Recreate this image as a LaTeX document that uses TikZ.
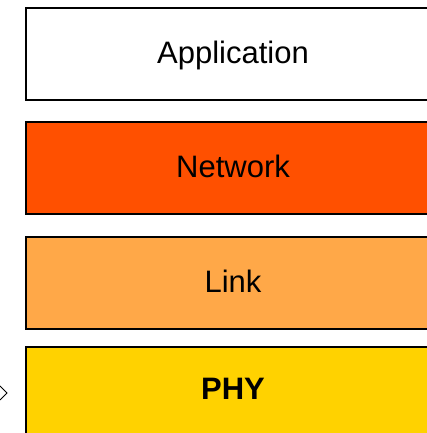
\documentclass[tikz,border=0pt]{standalone}
\usepackage{fontspec}
\setmainfont{Liberation Sans}
\definecolor{netcol}{RGB}{255,80,0}
\definecolor{linkcol}{RGB}{255,168,72}
\definecolor{phycol}{RGB}{255,210,0}
\begin{document}
\begin{tikzpicture}[x=1pt,y=1pt,
  box/.style={draw=black,line width=1.7pt},
  lbl/.style={inner sep=0pt,outer sep=0pt,font=\fontsize{31}{37}\selectfont},
  chev/.style={draw=black,line width=0.8pt}]
\path[use as bounding box] (0,0) rectangle (427,433);
\begin{scope}
\clip (0,0) rectangle (427,433);
\draw[box,fill=white]   (26,425) rectangle (440,333);
\draw[box,fill=netcol]  (26,311) rectangle (440,219);
\draw[box,fill=linkcol] (26,196) rectangle (440,104);
\draw[box,fill=phycol]  (26,86)  rectangle (440,-6);
\node[lbl,anchor=base] (app) at (233,369) {Application};
\node[lbl,anchor=base] (net) at (233,255) {Network};
\node[lbl,anchor=base] (link) at (233,140) {Link};
\node[lbl,anchor=base] (phy) at (233,33) {\textbf{PHY}};
\coordinate (c1) at (0,47);
\coordinate (c2) at (7,40);
\coordinate (c3) at (0,33);
\draw[chev] (c1) -- (c2) -- (c3);
\end{scope}
\end{tikzpicture}
\end{document}
